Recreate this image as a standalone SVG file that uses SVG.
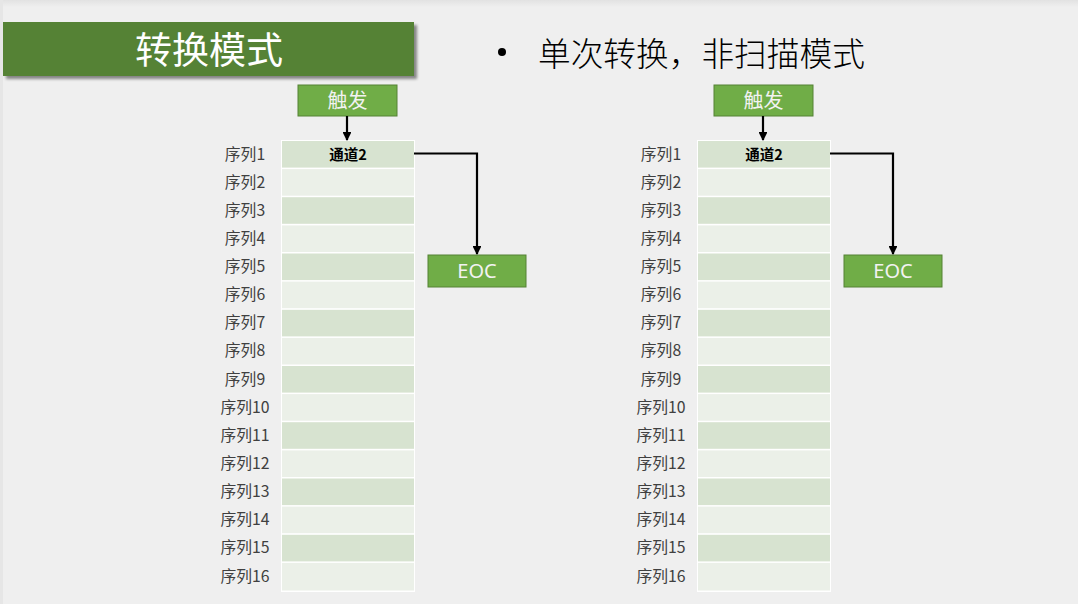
<svg xmlns="http://www.w3.org/2000/svg" width="1078" height="604" viewBox="0 0 1078 604">
<defs>
<linearGradient id="topg" x1="0" y1="0" x2="0" y2="1">
<stop offset="0" stop-color="#e2e2e2"/>
<stop offset="1" stop-color="#efefef"/>
</linearGradient>
<filter id="sh" x="-5%" y="-20%" width="115%" height="150%">
<feGaussianBlur in="SourceAlpha" stdDeviation="1.5"/>
<feOffset dx="3" dy="3" result="b"/>
<feComponentTransfer><feFuncA type="linear" slope="0.45"/></feComponentTransfer>
<feMerge><feMergeNode/><feMergeNode in="SourceGraphic"/></feMerge>
</filter>
<marker id="arr" viewBox="0 0 10 10" refX="9" refY="5" markerWidth="4" markerHeight="4" orient="auto" markerUnits="strokeWidth">
<path d="M0,0 L10,5 L0,10 z" fill="#000"/>
</marker>
</defs>
<style>
.zh{font-family:"Noto Sans CJK SC","Noto Sans",sans-serif;}
.lbl{font-size:15.8px;fill:#404040;text-anchor:middle;dominant-baseline:central;}
.box{fill:#70ad47;stroke:#548235;stroke-width:1;}
.btxt{font-size:20px;fill:#f2f2f2;text-anchor:middle;dominant-baseline:central;}
.rd{fill:#d7e3d0;}
.rl{fill:#ebf0e8;}
.conn{fill:none;stroke:#000;stroke-width:2.2;}
</style>
<rect width="1078" height="604" fill="#efefef"/>
<rect width="1078" height="7" fill="url(#topg)"/>
<rect x="0" y="0" width="3" height="604" fill="#e6e6e6"/>

<g id="title">
<rect x="3" y="22" width="411" height="54" fill="#548235" filter="url(#sh)"/>
<text class="zh" x="209" y="47.5" font-size="37" fill="#ffffff" text-anchor="middle" dominant-baseline="central">转换模式</text>
</g>
<g id="heading">
<circle cx="502" cy="52" r="4" fill="#000"/>
<text class="zh" x="538" y="51" font-size="32.7" font-weight="300" fill="#000" dominant-baseline="central">单次转换，非扫描模式</text>
</g>

<g id="left-panel">
<g id="left-trigger"><rect class="box" x="298" y="85" width="99" height="31"/><text class="zh btxt" x="347.5" y="99">触发</text></g>
<g id="left-eoc"><rect class="box" x="428" y="255" width="98" height="32"/><text class="btxt" font-family="'Noto Sans','Liberation Sans',sans-serif" x="477" y="270">EOC</text></g>
<g id="left-table">
<rect x="281" y="140" width="134" height="452" fill="#ffffff"/>
<rect class="rd" x="282" y="141" width="132" height="26.6"/>
<rect class="rl" x="282" y="169.1" width="132" height="26.6"/>
<rect class="rd" x="282" y="197.2" width="132" height="26.6"/>
<rect class="rl" x="282" y="225.4" width="132" height="26.6"/>
<rect class="rd" x="282" y="253.5" width="132" height="26.6"/>
<rect class="rl" x="282" y="281.6" width="132" height="26.6"/>
<rect class="rd" x="282" y="309.8" width="132" height="26.6"/>
<rect class="rl" x="282" y="337.9" width="132" height="26.6"/>
<rect class="rd" x="282" y="366" width="132" height="26.6"/>
<rect class="rl" x="282" y="394.1" width="132" height="26.6"/>
<rect class="rd" x="282" y="422.2" width="132" height="26.6"/>
<rect class="rl" x="282" y="450.4" width="132" height="26.6"/>
<rect class="rd" x="282" y="478.5" width="132" height="26.6"/>
<rect class="rl" x="282" y="506.6" width="132" height="26.6"/>
<rect class="rd" x="282" y="534.8" width="132" height="26.6"/>
<rect class="rl" x="282" y="562.9" width="132" height="27.6"/>
<text class="zh" x="348" y="153" font-size="14.5" font-weight="bold" fill="#000" text-anchor="middle" dominant-baseline="central">通道2</text>
</g>
<g id="left-labels" class="zh lbl">
<text x="245" y="153.5">序列1</text>
<text x="245" y="181.5">序列2</text>
<text x="245" y="209.5">序列3</text>
<text x="245" y="237.5">序列4</text>
<text x="245" y="265.5">序列5</text>
<text x="245" y="293.5">序列6</text>
<text x="245" y="321.5">序列7</text>
<text x="245" y="349.5">序列8</text>
<text x="245" y="378.5">序列9</text>
<text x="245" y="406.5">序列10</text>
<text x="245" y="434.5">序列11</text>
<text x="245" y="462.5">序列12</text>
<text x="245" y="490.5">序列13</text>
<text x="245" y="518.5">序列14</text>
<text x="245" y="546.5">序列15</text>
<text x="245" y="575.5">序列16</text>
</g>
</g>

<g id="right-panel" transform="translate(416,0)">
<g id="right-trigger"><rect class="box" x="298" y="85" width="99" height="31"/><text class="zh btxt" x="347.5" y="99">触发</text></g>
<g id="right-eoc"><rect class="box" x="428" y="255" width="98" height="32"/><text class="btxt" font-family="'Noto Sans','Liberation Sans',sans-serif" x="477" y="270">EOC</text></g>
<g id="right-table">
<rect x="281" y="140" width="134" height="452" fill="#ffffff"/>
<rect class="rd" x="282" y="141" width="132" height="26.6"/>
<rect class="rl" x="282" y="169.1" width="132" height="26.6"/>
<rect class="rd" x="282" y="197.2" width="132" height="26.6"/>
<rect class="rl" x="282" y="225.4" width="132" height="26.6"/>
<rect class="rd" x="282" y="253.5" width="132" height="26.6"/>
<rect class="rl" x="282" y="281.6" width="132" height="26.6"/>
<rect class="rd" x="282" y="309.8" width="132" height="26.6"/>
<rect class="rl" x="282" y="337.9" width="132" height="26.6"/>
<rect class="rd" x="282" y="366" width="132" height="26.6"/>
<rect class="rl" x="282" y="394.1" width="132" height="26.6"/>
<rect class="rd" x="282" y="422.2" width="132" height="26.6"/>
<rect class="rl" x="282" y="450.4" width="132" height="26.6"/>
<rect class="rd" x="282" y="478.5" width="132" height="26.6"/>
<rect class="rl" x="282" y="506.6" width="132" height="26.6"/>
<rect class="rd" x="282" y="534.8" width="132" height="26.6"/>
<rect class="rl" x="282" y="562.9" width="132" height="27.6"/>
<text class="zh" x="348" y="153" font-size="14.5" font-weight="bold" fill="#000" text-anchor="middle" dominant-baseline="central">通道2</text>
</g>
<g id="right-labels" class="zh lbl">
<text x="245" y="153.5">序列1</text>
<text x="245" y="181.5">序列2</text>
<text x="245" y="209.5">序列3</text>
<text x="245" y="237.5">序列4</text>
<text x="245" y="265.5">序列5</text>
<text x="245" y="293.5">序列6</text>
<text x="245" y="321.5">序列7</text>
<text x="245" y="349.5">序列8</text>
<text x="245" y="378.5">序列9</text>
<text x="245" y="406.5">序列10</text>
<text x="245" y="434.5">序列11</text>
<text x="245" y="462.5">序列12</text>
<text x="245" y="490.5">序列13</text>
<text x="245" y="518.5">序列14</text>
<text x="245" y="546.5">序列15</text>
<text x="245" y="575.5">序列16</text>
</g>
</g>

<g id="connectors">
<path class="conn" d="M347,116 V140" marker-end="url(#arr)"/>
<path class="conn" d="M414,153.5 H477 V254" marker-end="url(#arr)"/>
<path class="conn" d="M763,116 V140" marker-end="url(#arr)"/>
<path class="conn" d="M830,153.5 H893 V254" marker-end="url(#arr)"/>
</g>
</svg>
